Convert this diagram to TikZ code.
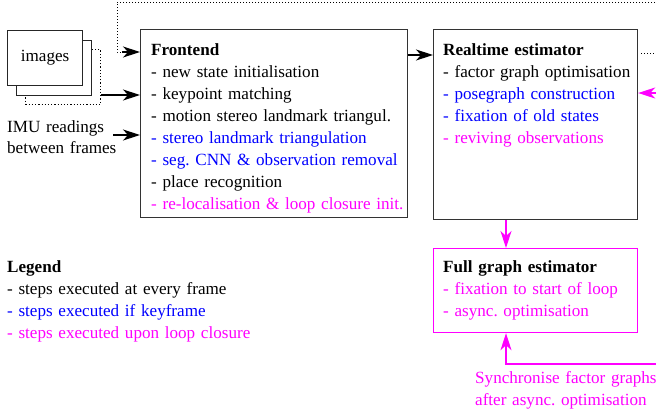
\documentclass[tikz,border=0pt]{standalone}
\usepackage{fontspec}
\setmainfont{Liberation Serif}
\usetikzlibrary{arrows.meta}
\definecolor{kfblue}{RGB}{0,0,255}
\definecolor{lcmag}{RGB}{255,0,255}
\frenchspacing
\begin{document}
\begin{tikzpicture}[x=1pt,y=-1pt,
  txt/.style={font=\fontsize{17.1}{22}\selectfont, inner sep=0pt, align=left, anchor=base west, text width=300pt},
  box/.style={draw=black!80, line width=1.2pt, anchor=north west, inner sep=0pt},
  imgbox/.style={draw=black!85, line width=1.2pt, fill=white, anchor=north west, inner sep=0pt, minimum width=75pt, minimum height=55pt},
  arr/.style={-{Stealth[length=17pt,width=11pt,inset=5pt]}, line width=1.2pt},
  dotarr/.style={dotted, line width=1pt},
  magarr/.style={arr, draw=lcmag, color=lcmag}
]
\useasboundingbox (0,0) rectangle (656,418);
\clip (0,0) rectangle (656,418);

% images stack
\node[imgbox, draw=black, dotted, line width=1pt] (img3) at (25,49) {};
\node[imgbox] (img2) at (16,40) {};
\node[imgbox] (img1) at (7,30) {};
\node[font=\fontsize{17.1}{22}\selectfont, inner sep=0pt] (imgt) at (img1.center) {images};

% IMU text
\node[txt] (imu) at (7,132) {IMU readings\\[-1pt]between frames};

% boxes
\node[box, minimum width=267pt, minimum height=188pt] (fe) at (140,29) {};
\node[box, minimum width=204pt, minimum height=190pt] (rt) at (433,29) {};
\node[box, draw=lcmag, minimum width=204pt, minimum height=84pt] (fg) at (433,248) {};

\node[txt] (fet) at (151,55) {\textbf{Frontend}\\
- new state initialisation\\
- keypoint matching\\
- motion stereo landmark triangul.\\
\textcolor{kfblue}{- stereo landmark triangulation}\\
\textcolor{kfblue}{- seg. CNN \& observation removal}\\
- place recognition\\
\textcolor{lcmag}{- re-localisation \& loop closure init.}};

\node[txt] (rtt) at (443,55) {\textbf{Realtime estimator}\\
- factor graph optimisation\\
\textcolor{kfblue}{- posegraph construction}\\
\textcolor{kfblue}{- fixation of old states}\\
\textcolor{lcmag}{- reviving observations}};

\node[txt] (fgt) at (443,272) {\textbf{Full graph estimator}\\
\textcolor{lcmag}{- fixation to start of loop}\\
\textcolor{lcmag}{- async. optimisation}};

\node[txt] (leg) at (7,272) {\textbf{Legend}\\
- steps executed at every frame\\
\textcolor{kfblue}{- steps executed if keyframe}\\
\textcolor{lcmag}{- steps executed upon loop closure}};

\node[txt, text=lcmag] (sync) at (475,383) {Synchronise factor graphs\\after async. optimisation};

% connectors
\coordinate (topR) at (670,2);
\coordinate (topL) at (117,2);
\coordinate (dotE) at (670,53);
\coordinate (magIn) at (670,93);
\coordinate (syncR) at (670,364);
\coordinate (imuS) at (113,135);

\draw[dotarr] (topR) -- (topL) -- (117,52) -- (122,52);
\draw[arr] (122,52) -- (fe.west |- 0,52);
\draw[arr] (img3.east |- 0,95) -- (fe.west |- 0,95);
\draw[arr] (imuS) -- (fe.west |- imuS);
\draw[arr] (fe.east |- 0,55) -- (rt.west |- 0,55);
\draw[dotarr] (rt.east |- dotE) ++(3,0) -- (dotE);
\draw[magarr] (magIn) -- (rt.east |- magIn);
\draw[magarr] (rt.south -| 506,0) -- (fg.north -| 506,0);
\draw[magarr] (syncR) -- (506,364) -- (fg.south -| 506,0);
\end{tikzpicture}
\end{document}
